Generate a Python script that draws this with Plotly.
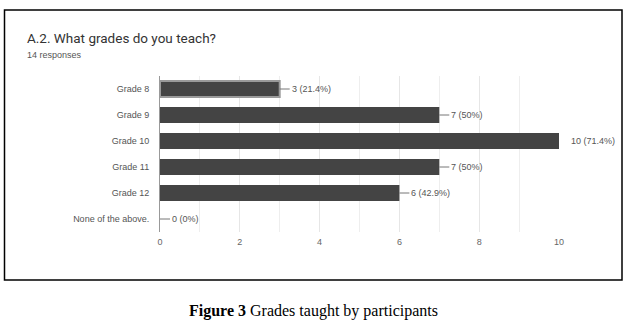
import plotly.graph_objects as go

categories = ["Grade 8", "Grade 9", "Grade 10", "Grade 11", "Grade 12", "None of the above."]
counts = [3, 7, 10, 7, 6, 0]
labels = ["3 (21.4%)", "7 (50%)", "10 (71.4%)", "7 (50%)", "6 (42.9%)", "0 (0%)"]
x_ticks = [0, 2, 4, 6, 8, 10]

W, H = 641, 331
L, R, T, B = 160, 559, 76, 232  # plot area in pixels

def px(x):
    return (x - L) / (R - L)

def py(y):
    return (B - y) / (B - T)

fig = go.Figure()
fig.add_trace(go.Bar(
    x=counts, y=categories, orientation="h",
    marker=dict(color="#444444",
                line=dict(color=["#9a9a9a"] + ["#444444"] * 5,
                          width=[2, 0, 0, 0, 0, 0])),
    width=0.62, hoverinfo="skip",
))

anns = []
for c, v, t in zip(categories, counts, labels):
    if v == max(counts):
        anns.append(dict(x=v, y=c, xref="x", yref="y", text=t, showarrow=False,
                         xanchor="left", xshift=10,
                         font=dict(family="Liberation Sans, Arial", size=9, color="#555")))
    else:
        anns.append(dict(x=v, y=c, xref="x", yref="y", text=t, showarrow=True,
                         arrowhead=0, arrowwidth=1, arrowcolor="#777", ax=10, ay=0,
                         xanchor="left", standoff=0, startstandoff=0,
                         font=dict(family="Liberation Sans, Arial", size=9, color="#555")))

anns.append(dict(x=px(25), y=py(38), xref="paper", yref="paper", text="A.2. What grades do you teach?",
                 showarrow=False, xanchor="left", yanchor="middle",
                 font=dict(family="Roboto, Arial", size=13.5, color="#333")))
anns.append(dict(x=px(25), y=py(55), xref="paper", yref="paper", text="14 responses",
                 showarrow=False, xanchor="left", yanchor="middle",
                 font=dict(family="Liberation Sans, Arial", size=9, color="#555")))
anns.append(dict(x=px(313), y=py(311), xref="paper", yref="paper",
                 text="<b>Figure 3</b> Grades taught by participants",
                 showarrow=False, xanchor="center", yanchor="middle",
                 font=dict(family="Liberation Serif, Times New Roman", size=16, color="#000")))

fig.update_layout(
    width=W, height=H,
    margin=dict(l=L, r=W - R, t=T, b=H - B, pad=0),
    paper_bgcolor="white", plot_bgcolor="white",
    showlegend=False,
    annotations=anns,
    shapes=[dict(type="rect", xref="paper", yref="paper",
                 x0=px(4.5), x1=px(622), y0=py(280), y1=py(10),
                 line=dict(color="black", width=1.5))],
    xaxis=dict(range=[0, 10], tickvals=x_ticks, ticktext=[str(v) for v in x_ticks],
               showgrid=True, gridcolor="#e6e6e6", gridwidth=1,
               minor=dict(dtick=1, showgrid=True, gridcolor="#eeeeee"),
               zeroline=False, showline=False, ticks="", ticklabelstandoff=3,
               tickfont=dict(family="Liberation Sans, Arial", size=9, color="#666"),
               fixedrange=True),
    yaxis=dict(categoryorder="array", categoryarray=categories, autorange="reversed",
               showgrid=False, zeroline=False, showline=True, linecolor="#999", linewidth=1,
               ticks="", ticklabelstandoff=8,
               tickfont=dict(family="Liberation Sans, Arial", size=9, color="#555"),
               fixedrange=True),
)

fig.write_html("out.html", post_script="document.body.style.margin='0';",
               config={"displayModeBar": False})
